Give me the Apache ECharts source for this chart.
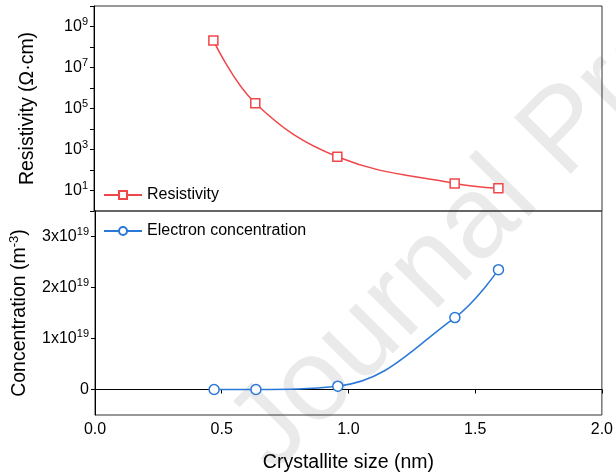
<!DOCTYPE html>
<html>
<head>
<meta charset="utf-8">
<script src="https://cdn.jsdelivr.net/npm/echarts@6/dist/echarts.min.js"></script>
<style>
  html, body { margin: 0; padding: 0; background: #fff; }
  #chart { width: 616px; height: 476px; }
</style>
</head>
<body>
<div id="chart"></div>
<script>
// 数据
var crystalliteSize = [0.47, 0.635, 0.958, 1.42, 1.592];
var resistivity = [2.1e8, 1.8e5, 4.4e2, 22, 13];
var concentration = [0.0e19, 0.0e19, 0.065e19, 1.41e19, 2.35e19];
var xTicks = [0, 0.5, 1.0, 1.5, 2.0];
var logTicks = [1, 1e1, 1e2, 1e3, 1e4, 1e5, 1e6, 1e7, 1e8, 1e9, 1e10];
var logLabels = [1e1, 1e3, 1e5, 1e7, 1e9];
var concTicks = [0, 1e19, 2e19, 3e19];

var red = '#ef4649';
var blue = '#2a78d8';
var font = 'Liberation Sans, Arial, sans-serif';

var chart = echarts.init(document.getElementById('chart'));

function pairs(ys) {
    return crystalliteSize.map(function (x, i) { return [x, ys[i]]; });
}

var supRich = {
    sup: { fontSize: 11, verticalAlign: 'top', padding: [0, 0, 9, 0], fontFamily: font, color: '#000' }
};

var option = {
    animation: false,
    backgroundColor: '#fff',
    textStyle: { fontFamily: font },
    graphic: [{   // 水印
        type: 'text',
        x: 292,
        y: 492,
        rotation: 0.79,
        z: -10,
        silent: true,
        style: {
            text: 'Journal Pre-proof',
            fontSize: 116,
            fontFamily: font,
            fill: '#eaeaea',
            textAlign: 'left',
            textVerticalAlign: 'bottom'
        }
    }],
    grid: [
        { left: 94, top: 6, width: 508, height: 205, show: true, borderColor: '#333', borderWidth: 1 },
        { left: 94, top: 211, width: 508, height: 204, show: true, borderColor: '#333', borderWidth: 1 }
    ],
    legend: [{
        data: ['Resistivity'],
        left: 98,
        top: 182,
        itemWidth: 38,
        itemHeight: 10,
        textStyle: { fontSize: 16, color: '#000', fontFamily: font }
    }, {
        data: ['Electron concentration'],
        left: 98,
        top: 218,
        itemWidth: 38,
        itemHeight: 10,
        textStyle: { fontSize: 16, color: '#000', fontFamily: font }
    }],
    xAxis: [{
        gridIndex: 0,
        type: 'value',
        min: 0,
        max: 2,
        show: false
    }, {
        gridIndex: 1,
        type: 'value',
        min: 0,
        max: 2,
        name: 'Crystallite size (nm)',
        nameLocation: 'middle',
        nameGap: 38,
        nameTextStyle: { fontSize: 19.5, color: '#000', fontFamily: font },
        axisLine: { show: true, lineStyle: { color: '#000' } },
        axisTick: { show: true, length: 4, inside: false, customValues: xTicks, lineStyle: { color: '#000' } },
        axisLabel: {
            customValues: xTicks,
            fontSize: 16,
            color: '#000',
            margin: 7,
            formatter: function (v) { return v.toFixed(1); }
        },
        splitLine: { show: false }
    }],
    yAxis: [{
        gridIndex: 0,
        type: 'log',
        logBase: 10,
        min: 1,
        max: 1e10,
        name: 'Resistivity (Ω·cm)',
        nameLocation: 'middle',
        nameGap: 56,
        nameTextStyle: { fontSize: 19.5, color: '#000', fontFamily: font },
        axisLine: { show: true, lineStyle: { color: '#000' } },
        axisTick: { show: true, length: 4, customValues: logTicks, lineStyle: { color: '#000' } },
        axisLabel: {
            customValues: logLabels,
            fontSize: 16,
            color: '#000',
            margin: 6,
            formatter: function (v) {
                var e = Math.round(Math.log10(v));
                return '10{sup|' + e + '}';
            },
            rich: supRich
        },
        splitLine: { show: false }
    }, {
        gridIndex: 1,
        type: 'value',
        min: -0.5e19,
        max: 3.5e19,
        name: 'Concentration (m{sup|-3})',
        nameLocation: 'middle',
        nameGap: 64,
        nameTextStyle: { fontSize: 19.5, color: '#000', fontFamily: font, rich: { sup: { fontSize: 13, verticalAlign: 'top', padding: [0, 0, 10, 0], fontFamily: font, color: '#000' } } },
        axisLine: { show: true, lineStyle: { color: '#000' } },
        axisTick: { show: true, length: 4, customValues: concTicks, lineStyle: { color: '#000' } },
        axisLabel: {
            customValues: concTicks,
            fontSize: 16,
            color: '#000',
            margin: 6,
            formatter: function (v) {
                if (v === 0) return '0';
                return Math.round(v / 1e19) + 'x10{sup|19}';
            },
            rich: supRich
        },
        splitLine: { show: false }
    }],
    series: [{
        name: 'Resistivity',
        type: 'line',
        xAxisIndex: 0,
        yAxisIndex: 0,
        smooth: 0.4,
        symbol: 'rect',
        symbolSize: 9,
        lineStyle: { color: red, width: 1.5 },
        itemStyle: { color: '#fff', borderColor: red, borderWidth: 1.5 },
        data: pairs(resistivity)
    }, {
        name: 'Electron concentration',
        type: 'line',
        xAxisIndex: 1,
        yAxisIndex: 1,
        smooth: 0.4,
        symbol: 'circle',
        symbolSize: 10,
        lineStyle: { color: blue, width: 1.5 },
        itemStyle: { color: '#fff', borderColor: blue, borderWidth: 1.5 },
        data: pairs(concentration)
    }]
};
chart.setOption(option);
</script>
</body>
</html>
